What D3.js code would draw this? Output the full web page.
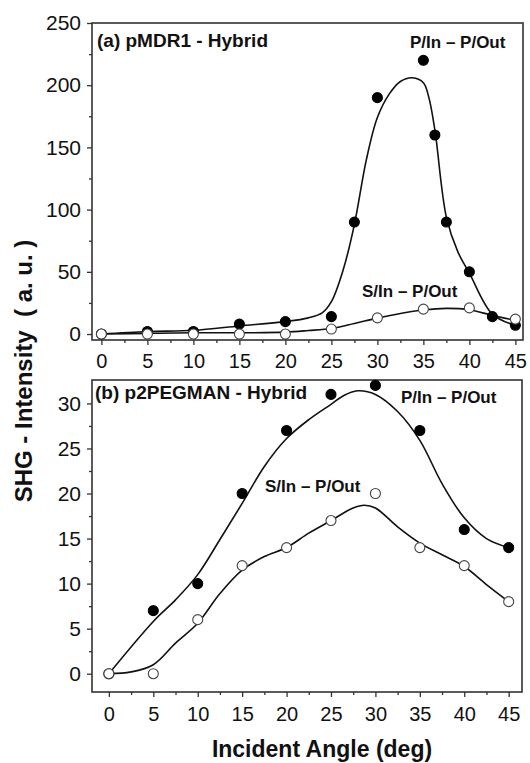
<!DOCTYPE html>
<html>
<head>
<meta charset="utf-8">
<script src="https://cdn.jsdelivr.net/npm/d3@7"></script>
<style>
body { margin: 0; background: #fff; }
text { font-family: "Liberation Sans", Arial, sans-serif; }
</style>
</head>
<body>
<div id="chart"></div>
<script>
// panel (a) pMDR1 - Hybrid
var topPAngles = [0, 5, 10, 15, 20, 25, 27.5, 30, 35, 36.25, 37.5, 40, 42.5, 45];
var topPValues = [0, 2, 2, 8, 10, 14, 90, 190, 220, 160, 90, 50, 14, 7];
var topSAngles = [0, 5, 10, 15, 20, 25, 30, 35, 40, 45];
var topSValues = [0, 0, 0, 0, 0, 4, 13, 20, 21, 12];
// fitted curves
var topPFitAngles = [0, 5, 10, 15, 20, 22.5, 24, 25, 26.3, 27.5, 28.8, 30, 31.3, 32.5, 33.8, 35, 35.6, 36.25, 37.5, 38.75, 40, 42.5, 45];
var topPFitValues = [0, 2, 3, 6.5, 10, 13, 17, 26, 52, 88, 140, 174, 193, 203, 206, 202, 190, 164, 94, 66, 49, 16, 7];
var topSFitAngles = [0, 5, 10, 15, 20, 22.5, 25, 27.5, 30, 32.5, 35, 37.5, 40, 42.5, 45];
var topSFitValues = [0, 0.5, 1, 1, 1.5, 2.8, 4.5, 8.5, 12.8, 16.5, 19.3, 20.6, 19.5, 15, 11];

// panel (b) p2PEGMAN - Hybrid
var botAngles = [0, 5, 10, 15, 20, 25, 30, 35, 40, 45];
var botPValues = [0, 7, 10, 20, 27, 31, 32, 27, 16, 14];
var botSValues = [0, 0, 6, 12, 14, 17, 20, 14, 12, 8];
var botPFitAngles = [0, 5, 7.5, 10, 12.5, 15, 17.5, 20, 22.5, 25, 26.5, 28, 30, 32.5, 35, 37.5, 40, 42.5, 45];
var botPFitValues = [0, 5.8, 8.2, 11, 14.9, 18.9, 23, 26.1, 28.2, 29.9, 30.9, 31.4, 31, 29.1, 25.9, 21.1, 17.3, 15, 14];
var botSFitAngles = [0, 2.5, 5, 7.5, 10, 12.5, 15, 17.5, 20, 22.5, 25, 27.5, 28.75, 30, 32.5, 35, 37.5, 40, 42.5, 45];
var botSFitValues = [0, 0.2, 1, 3.4, 5.6, 8.9, 11.5, 13, 14, 15.6, 17, 18.4, 18.7, 18.4, 16.3, 14.5, 13.2, 11.9, 9.9, 8];

var xMajor = [0, 5, 10, 15, 20, 25, 30, 35, 40, 45];
var xMinor = [2.5, 7.5, 12.5, 17.5, 22.5, 27.5, 32.5, 37.5, 42.5];
var topYMajor = [0, 50, 100, 150, 200, 250];
var topYMinor = [25, 75, 125, 175, 225];
var botYMajor = [0, 5, 10, 15, 20, 25, 30];
var botYMinor = [2.5, 7.5, 12.5, 17.5, 22.5, 27.5];

var W = 530, H = 763;
var svg = d3.select("#chart").append("svg").attr("width", W).attr("height", H);

var panels = [
  {
    box: { left: 92, right: 523, top: 23, bottom: 340 },
    xDom: [-1.02, 45.83], yDom: [-4.8, 250],
    yMajor: topYMajor, yMinor: topYMinor,
    series: [
      { fx: topPFitAngles, fy: topPFitValues, px: topPAngles, py: topPValues, filled: true },
      { fx: topSFitAngles, fy: topSFitValues, px: topSAngles, py: topSValues, filled: false }
    ],
    labels: [
      { text: "(a) pMDR1 - Hybrid", x: 97, y: 47, size: 19 },
      { text: "P/In \u2013 P/Out", x: 410, y: 48, size: 17 },
      { text: "S/In \u2013 P/Out", x: 362, y: 297, size: 17 }
    ],
    xLabelY: 368
  },
  {
    box: { left: 92, right: 522, top: 380, bottom: 692 },
    xDom: [-1.9, 46.5], yDom: [-2.03, 32.6],
    yMajor: botYMajor, yMinor: botYMinor,
    series: [
      { fx: botPFitAngles, fy: botPFitValues, px: botAngles, py: botPValues, filled: true },
      { fx: botSFitAngles, fy: botSFitValues, px: botAngles, py: botSValues, filled: false }
    ],
    labels: [
      { text: "(b) p2PEGMAN - Hybrid", x: 95, y: 399, size: 19 },
      { text: "P/In \u2013 P/Out", x: 401, y: 403, size: 17 },
      { text: "S/In \u2013 P/Out", x: 265, y: 492, size: 17 }
    ],
    xLabelY: 721
  }
];

panels.forEach(function (p) {
  var b = p.box;
  var x = d3.scaleLinear().domain(p.xDom).range([b.left, b.right]);
  var y = d3.scaleLinear().domain(p.yDom).range([b.bottom, b.top]);
  var g = svg.append("g");

  // minor ticks
  g.append("g").attr("transform", "translate(0," + b.bottom + ")")
    .call(d3.axisBottom(x).tickValues(xMinor).tickSize(3).tickFormat(""))
    .call(function (a) { a.select(".domain").remove(); });
  g.append("g").attr("transform", "translate(" + b.left + ",0)")
    .call(d3.axisLeft(y).tickValues(p.yMinor).tickSize(3).tickFormat(""))
    .call(function (a) { a.select(".domain").remove(); });

  // major ticks
  var xa = g.append("g").attr("transform", "translate(0," + b.bottom + ")")
    .call(d3.axisBottom(x).tickValues(xMajor).tickSize(5));
  xa.select(".domain").remove();
  xa.selectAll("text").attr("font-size", 20).attr("fill", "#111")
    .attr("dy", null).attr("y", p.xLabelY - b.bottom);
  var ya = g.append("g").attr("transform", "translate(" + b.left + ",0)")
    .call(d3.axisLeft(y).tickValues(p.yMajor).tickSize(5).tickPadding(6));
  ya.select(".domain").remove();
  ya.selectAll("text").attr("font-size", 21).attr("fill", "#111");
  g.selectAll(".tick line").attr("stroke", "#333").attr("stroke-width", 1.3);

  // frame
  g.append("rect").attr("x", b.left).attr("y", b.top)
    .attr("width", b.right - b.left).attr("height", b.bottom - b.top)
    .attr("fill", "none").attr("stroke", "#333").attr("stroke-width", 1.6);

  var line = d3.line().x(function (d) { return x(d[0]); }).y(function (d) { return y(d[1]); })
    .curve(d3.curveCatmullRom.alpha(0.5));

  p.series.forEach(function (s) {
    g.append("path").datum(d3.zip(s.fx, s.fy)).attr("d", line)
      .attr("fill", "none").attr("stroke", "#111").attr("stroke-width", 1.6);
  });
  p.series.forEach(function (s) {
    g.selectAll(null).data(d3.zip(s.px, s.py)).enter().append("circle")
      .attr("cx", function (d) { return x(d[0]); })
      .attr("cy", function (d) { return y(d[1]); })
      .attr("r", 5)
      .attr("fill", s.filled ? "#000" : "#fff")
      .attr("stroke", s.filled ? "#000" : "#444")
      .attr("stroke-width", 1.1);
  });

  p.labels.forEach(function (l) {
    g.append("text").attr("x", l.x).attr("y", l.y).attr("font-size", l.size)
      .attr("font-weight", "bold").attr("fill", "#111").text(l.text);
  });
});

svg.append("text").attr("transform", "translate(32,371) rotate(-90)")
  .attr("text-anchor", "middle").attr("font-size", 24).attr("font-weight", "bold")
  .style("white-space", "pre").attr("fill", "#111")
  .text("SHG - Intensity  ( a. u. )");

svg.append("text").attr("x", 322).attr("y", 757)
  .attr("text-anchor", "middle").attr("font-size", 23).attr("font-weight", "bold")
  .attr("fill", "#111").text("Incident Angle (deg)");
</script>
</body>
</html>
